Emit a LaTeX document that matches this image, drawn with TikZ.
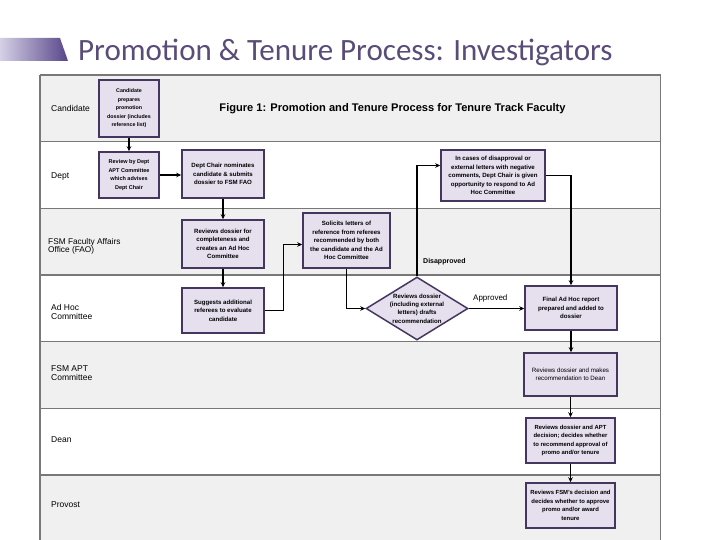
\documentclass[tikz,border=0pt]{standalone}
\usepackage{fontspec}
\setmainfont{Liberation Sans}
\newfontfamily\titlefont{Carlito}
\usetikzlibrary{arrows.meta,shapes.geometric}
\definecolor{lanegray}{RGB}{240,240,240}
\definecolor{linegray}{RGB}{120,120,120}
\definecolor{boxfill}{RGB}{229,223,238}
\definecolor{boxdraw}{RGB}{68,54,94}
\definecolor{titlecol}{RGB}{90,76,120}
\definecolor{accentlight}{RGB}{214,208,230}
\definecolor{accentdark}{RGB}{88,70,138}
\tikzset{
  pbox/.style={draw=boxdraw, fill=boxfill, line width=1.5pt, inner sep=0pt, align=center,
    font=\fontsize{6.1}{8.5}\selectfont\bfseries},
  lanelabel/.style={anchor=west, align=left, inner sep=0pt, font=\fontsize{8.5}{9.5}\selectfont},
  arr/.style={draw=black, line width=1.4pt, -{Stealth[length=5pt,width=4.5pt]}},
  sep/.style={draw=linegray, line width=1.5pt}
}
\begin{document}
\begin{tikzpicture}[x=1pt,y=-1pt]
\useasboundingbox (0,0) rectangle (720,540);
% accent and title
\shade[left color=accentlight, right color=accentdark] (0,38) -- (60,38) -- (68,61) -- (0,61) -- cycle;
\node[anchor=base west, inner sep=0pt, text=titlecol, font=\titlefont\fontsize{31}{32}\selectfont] (title) at (78,61) {Promotion \& Tenure Process: Investigators};
% lanes
\fill[lanegray] (40,75) rectangle (660.7,141.7);
\fill[lanegray] (40,208.3) rectangle (660.7,275);
\fill[lanegray] (40,341.7) rectangle (660.7,408.3);
\fill[lanegray] (40,475) rectangle (660.7,540);
\foreach \yy in {75,141.7,208.3,275,341.7,408.3,475} {\draw[sep] (40,\yy) -- (660.7,\yy);}
\draw[sep] (40,75) -- (40,540);
\draw[sep] (660.7,75) -- (660.7,540);
% lane labels
\node[lanelabel] (lcand) at (51,108) {Candidate};
\node[lanelabel] (ldept) at (51,176) {Dept};
\node[lanelabel, font=\fontsize{8.3}{8}\selectfont] (lfao) at (48,246) {FSM Faculty Affairs\\Office (FAO)};
\node[lanelabel] (ladhoc) at (51,312) {Ad Hoc\\Committee};
\node[lanelabel] (lapt) at (51,373) {FSM APT\\Committee};
\node[lanelabel] (ldean) at (51,440) {Dean};
\node[lanelabel] (lprov) at (51,505) {Provost};
% figure title
\node[inner sep=0pt, font=\fontsize{11.1}{12}\selectfont\bfseries] (ftitle) at (392.5,109) {Figure 1: Promotion and Tenure Process for Tenure Track Faculty};
% boxes
\node[pbox, minimum width=60pt, minimum height=57pt, font=\fontsize{5.3}{8.5}\selectfont\bfseries] (cand) at (129,108.5) {Candidate\\prepares\\promotion\\dossier (includes\\reference list)};
\node[pbox, minimum width=60pt, minimum height=46pt, font=\fontsize{5.5}{8.5}\selectfont\bfseries] (rev) at (129,175) {Review by Dept\\APT Committee\\which advises\\Dept Chair};
\node[pbox, minimum width=82pt, minimum height=48pt] (dc) at (223,174) {Dept Chair nominates\\candidate \& submits\\dossier to FSM FAO};
\node[pbox, minimum width=82pt, minimum height=48pt] (fao) at (223,244) {Reviews dossier for\\completeness and\\creates an Ad Hoc\\Committee};
\node[pbox, minimum width=87pt, minimum height=55pt] (sol) at (346.5,240.5) {Solicits letters of\\reference from referees\\recommended by both\\the candidate and the Ad\\Hoc Committee};
\node[pbox, minimum width=104pt, minimum height=51pt] (dis) at (493,175.5) {In cases of disapproval or\\external letters with negative\\comments, Dept Chair is given\\opportunity to respond to Ad\\Hoc Committee};
\node[pbox, minimum width=82pt, minimum height=45pt] (sug) at (223,310.5) {Suggests additional\\referees to evaluate\\candidate};
\node[pbox, shape=diamond, minimum width=102pt, minimum height=63pt] (dia) at (417,308.5) {};
\node[inner sep=0pt, align=center, font=\fontsize{6.1}{8.3}\selectfont\bfseries] (diatext) at (dia.center) {Reviews dossier\\(including external\\letters) drafts\\recommendation};
\node[pbox, minimum width=92pt, minimum height=44pt] (fin) at (571,308) {Final Ad Hoc report\\prepared and added to\\dossier};
\node[pbox, minimum width=93pt, minimum height=43pt, font=\fontsize{6.2}{8.5}\selectfont] (apt) at (570.5,374.5) {Reviews dossier and makes\\recommendation to Dean};
\node[pbox, minimum width=89pt, minimum height=45pt, font=\fontsize{5.9}{8.5}\selectfont\bfseries] (dean) at (570.5,440.5) {Reviews dossier and APT\\decision; decides whether\\to recommend approval of\\promo and/or tenure};
\node[pbox, minimum width=89pt, minimum height=45pt, font=\fontsize{5.9}{8.5}\selectfont\bfseries] (prov) at (570.5,505.5) {Reviews FSM's decision and\\decides whether to approve\\promo and/or award\\tenure};
% labels
\node[anchor=west, inner sep=0pt, font=\fontsize{7}{8}\selectfont\bfseries] (ldis) at (423,262) {Disapproved};
\node[anchor=west, inner sep=0pt, font=\fontsize{8}{9}\selectfont] (lapp) at (473,298) {Approved};
% connectors
\draw[arr] (cand) -- (rev);
\draw[arr] (rev.east) -- (rev.east -| dc.west);
\draw[arr] (dc) -- (fao);
\draw[arr] (fao) -- (sug);
\draw[arr] (sug.east) -- ++(19,0) |- ([yshift=-4pt]sol.west);
\draw[arr] (sol.south) |- (dia.west);
\draw[arr] (dia.north) |- ([yshift=10pt]dis.west);
\draw[arr] (dis.east) -| (fin.north);
\draw[arr] (dia.east) -- (dia.east -| fin.west);
\draw[arr] (fin.south) -- (fin.south |- apt.north);
\draw[arr] (apt) -- (dean);
\draw[arr] (dean) -- (prov);
\end{tikzpicture}
\end{document}
